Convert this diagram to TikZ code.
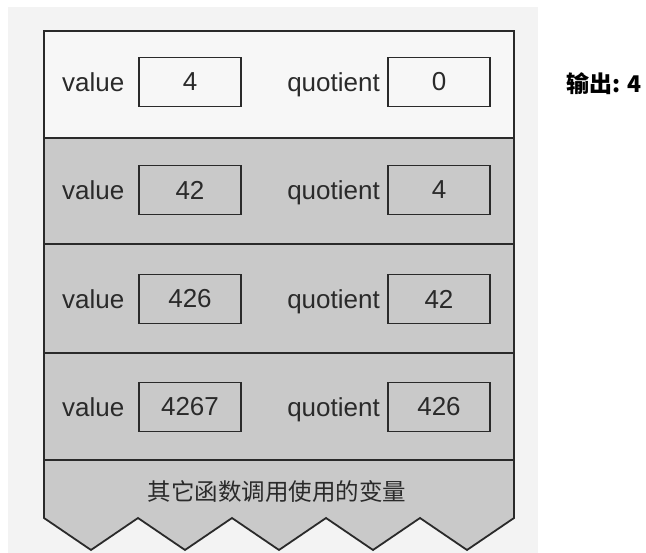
\documentclass[tikz,border=0pt]{standalone}
\usepackage{fontspec}
\setmainfont{Liberation Sans}
\newfontfamily\cjk{Noto Sans CJK SC}
\definecolor{rowgray}{HTML}{C9C9C9}
\definecolor{pagegray}{HTML}{F3F3F3}
\definecolor{ink}{HTML}{2A2A2A}
\begin{document}
\begin{tikzpicture}[x=1pt,y=-1pt,
  lbl/.style={font=\fontsize{26}{30}\selectfont, text=ink, inner sep=0pt},
  valbox/.style={draw=ink, line width=1.6pt, minimum width=102pt, minimum height=49pt, inner sep=0pt, font=\fontsize{26}{30}\selectfont, text=ink},
  frameline/.style={draw=ink, line width=1.8pt, line join=miter}]
\useasboundingbox (0,0) rectangle (646,553);
% page background
\fill[pagegray] (8,7) rectangle (538,553);
% stack shape
\fill[rowgray] (44,31) -- (514,31) -- (514,518) -- (467,550) -- (420,518) -- (373,550) -- (326,518) -- (279,550) -- (232,518) -- (185,550) -- (138,518) -- (91,550) -- (44,518) -- cycle;
\fill[white!97!black] (44,31) rectangle (514,138);
\draw[frameline] (44,31) -- (514,31) -- (514,518) -- (467,550) -- (420,518) -- (373,550) -- (326,518) -- (279,550) -- (232,518) -- (185,550) -- (138,518) -- (91,550) -- (44,518) -- cycle;
\foreach \y in {138,244,353,460} \draw[frameline] (44,\y) -- (514,\y);
% rows
\foreach \r/\y/\v/\q in {1/82/4/0, 2/190/42/4, 3/299/426/42, 4/407/4267/426} {
  \node[valbox] (v\r) at (190,\y) {\v};
  \node[valbox] (q\r) at (439,\y) {\q};
  \node[lbl, anchor=base west] (vl\r) at ([yshift=-10pt]v\r.center -| 62,0) {value};
  \node[lbl, anchor=base east] (ql\r) at ([yshift=-10pt]q\r.center -| 380,0) {quotient};
}
\node[font=\cjk\fontsize{23.5}{27}\selectfont, text=ink, inner sep=0pt] (other) at (277,492) {其它函数调用使用的变量};
\node[font=\cjk\bfseries\fontsize{23}{27}\selectfont, text=black, anchor=west, inner sep=0pt] (out) at (566,84) {输出: 4};
\end{tikzpicture}
\end{document}
